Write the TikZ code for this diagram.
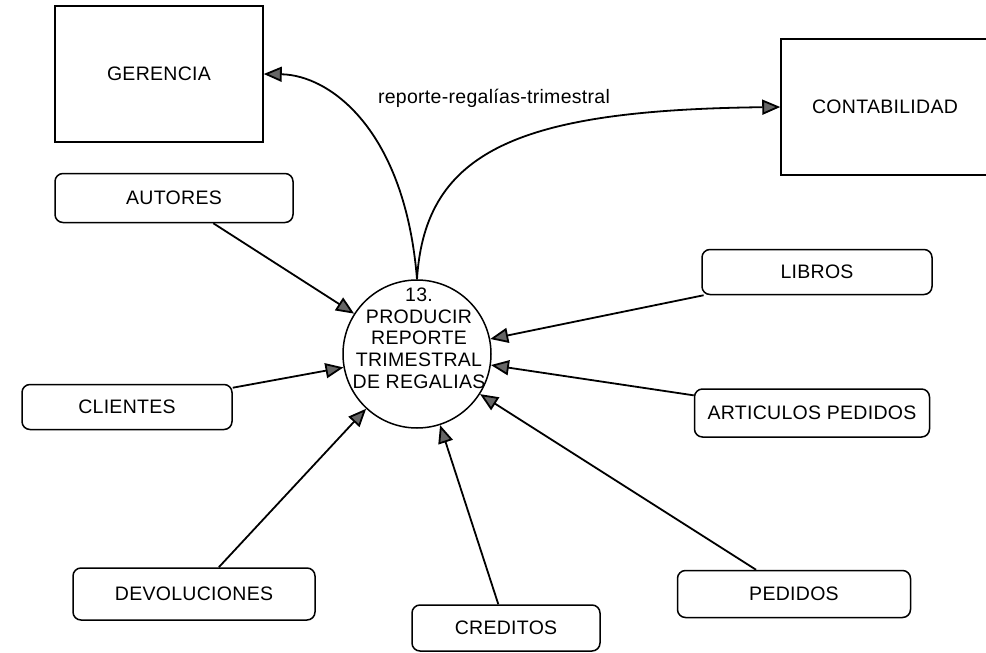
\documentclass[tikz,border=0pt]{standalone}
\usepackage{fontspec}
\setmainfont[LetterSpace=1.5]{Liberation Sans}
\usetikzlibrary{arrows.meta}

\begin{document}
\begin{tikzpicture}[x=1pt, y=-1pt,
    every node/.style={font=\fontsize{19.5}{21.7}\selectfont},
    entity/.style={draw, line width=1.5pt, minimum width=208pt, minimum height=136pt},
    store/.style={draw, line width=1.5pt, rounded corners=8pt, inner sep=2pt},
    process/.style={draw, circle, line width=1.5pt, minimum size=148pt, inner sep=0pt},
    flow/.style={-{Triangle[length=18pt, width=15pt, fill=black!60]}, line width=1.8pt}]
    \useasboundingbox (0,0) rectangle (986,653);

    % externe Entitaeten
    \node[entity](gerencia)                                         at (159,74)    {GERENCIA};
    \node[entity](contabilidad)                                     at (885,107)   {CONTABILIDAD};
    % Prozess 13
    \node[process](proc)                                            at (417,354)   {};
    \node[align=center](proc_txt)                                   at (419,338)   {13.\\PRODUCIR\\REPORTE\\TRIMESTRAL\\DE REGALIAS};
    % Datenspeicher
    \node[store, minimum width=238pt, minimum height=49pt](autores)   at (174,198)   {AUTORES};
    \node[store, minimum width=230pt, minimum height=45pt](libros)    at (817,272)   {LIBROS};
    \node[store, minimum width=210pt, minimum height=45pt](clientes)  at (127,407)   {CLIENTES};
    \node[store, minimum width=235pt, minimum height=48pt](articulos) at (812,413)   {ARTICULOS PEDIDOS};
    \node[store, minimum width=242pt, minimum height=52pt](devol)     at (194,594)   {DEVOLUCIONES};
    \node[store, minimum width=188pt, minimum height=46pt](creditos)  at (506,628)   {CREDITOS};
    \node[store, minimum width=233pt, minimum height=47pt](pedidos)   at (794,594)   {PEDIDOS};

    \node(flow_lbl)                                                 at (494,98)    {reporte-regalías-trimestral};

    \path
        (autores)   edge [flow] (proc)
        (clientes)  edge [flow] (proc)
        (devol)     edge [flow] (proc)
        (creditos)  edge [flow] (proc)
        (pedidos)   edge [flow] (proc)
        (articulos) edge [flow] (proc)
        (libros)    edge [flow] (proc)
        ;

    % Ausgabe an Gerencia und Contabilidad
    \draw[flow] (proc.north) .. controls (405,130) and (330,75) .. (gerencia.east);
    \draw[flow] (proc.north) .. controls (425,150) and (520,110) .. (contabilidad.west);
\end{tikzpicture}
\end{document}
